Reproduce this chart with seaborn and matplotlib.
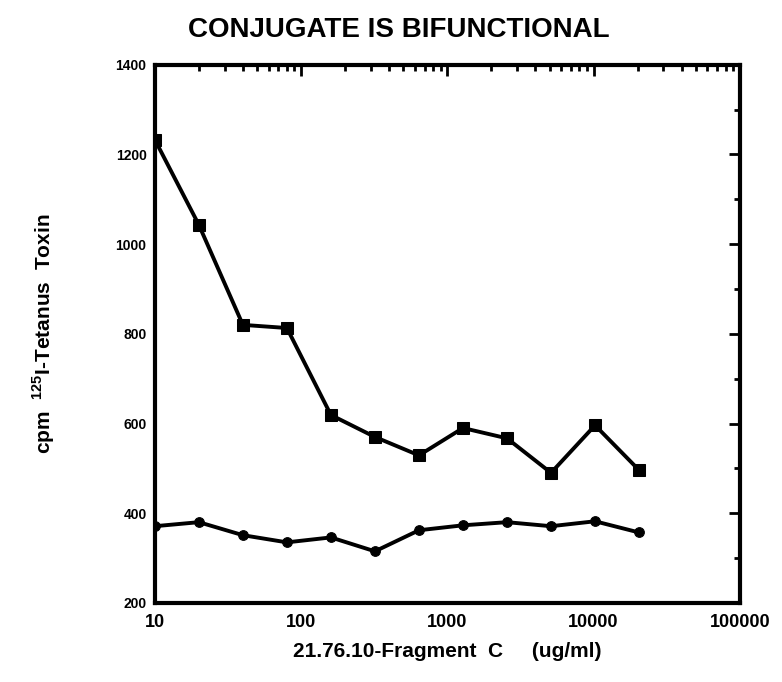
import numpy as np
import pandas as pd
import seaborn as sns
import matplotlib.pyplot as plt
from matplotlib.ticker import FixedLocator, MultipleLocator, LogLocator, NullFormatter

# concentration of 21.76.10-Fragment C (ug/ml), twofold dilutions
conc = [10, 20, 40, 80, 160, 320, 640, 1280, 2560, 5120, 10240, 20480]
# cpm 125I-Tetanus Toxin
upper_cpm = [1233, 1043, 820, 813, 619, 570, 529, 590, 567, 490, 596, 496]
lower_cpm = [371, 380, 351, 335, 346, 315, 362, 373, 380, 371, 382, 357]

x_ticks = [10, 100, 1000, 10000, 100000]
x_tick_labels = ['10', '100', '1000', '10000', '100000']
y_ticks = [200, 400, 600, 800, 1000, 1200, 1400]

sns.set_style('white')
plt.rcParams['font.family'] = ['Liberation Sans', 'DejaVu Sans']
plt.rcParams['font.weight'] = 'bold'
plt.rcParams['text.color'] = 'black'
plt.rcParams['axes.labelcolor'] = 'black'
plt.rcParams['xtick.color'] = 'black'
plt.rcParams['ytick.color'] = 'black'
plt.rcParams['mathtext.fontset'] = 'custom'
plt.rcParams['mathtext.bf'] = 'Liberation Sans:bold'
plt.rcParams['mathtext.rm'] = 'Liberation Sans:bold'

fig = plt.figure(figsize=(7.82, 6.82), dpi=100)
ax = fig.add_axes([0.198, 0.116, 0.748, 0.789])

df_up = pd.DataFrame({'conc': conc, 'cpm': upper_cpm})
df_lo = pd.DataFrame({'conc': conc, 'cpm': lower_cpm})

sns.lineplot(data=df_up, x='conc', y='cpm', ax=ax, color='black', linewidth=2.8,
             marker='s', markersize=8, markeredgecolor='black')
sns.lineplot(data=df_lo, x='conc', y='cpm', ax=ax, color='black', linewidth=2.8,
             marker='o', markersize=7, markeredgecolor='black')

ax.set_xscale('log')
ax.set_xlim(10, 100000)
ax.set_ylim(200, 1400)

ax.xaxis.set_major_locator(FixedLocator(x_ticks))
ax.set_xticklabels(x_tick_labels)
ax.xaxis.set_minor_locator(LogLocator(base=10, subs=np.arange(2, 10)))
ax.xaxis.set_minor_formatter(NullFormatter())
ax.yaxis.set_major_locator(FixedLocator(y_ticks))
ax.yaxis.set_minor_locator(MultipleLocator(100))

ax.tick_params(which='both', direction='in', top=True, right=True, width=2)
ax.tick_params(which='major', length=8)
ax.tick_params(which='minor', length=4)
ax.tick_params(axis='x', labelsize=13, pad=8)
ax.tick_params(axis='y', labelsize=10, pad=6)
for lbl in ax.get_xticklabels() + ax.get_yticklabels():
    lbl.set_fontweight('bold')

for s in ax.spines.values():
    s.set_linewidth(3)
    s.set_color('black')

ax.set_xlabel('21.76.10-Fragment  C     (ug/ml)', fontsize=15, fontweight='bold', labelpad=8)
ax.set_ylabel(r'cpm  $^{\mathbf{125}}$I-Tetanus  Toxin', fontsize=15, fontweight='bold', labelpad=42)
fig.suptitle('CONJUGATE IS BIFUNCTIONAL', x=0.51, y=0.975, fontsize=20, fontweight='bold')

fig.savefig('out.png', dpi=100)
